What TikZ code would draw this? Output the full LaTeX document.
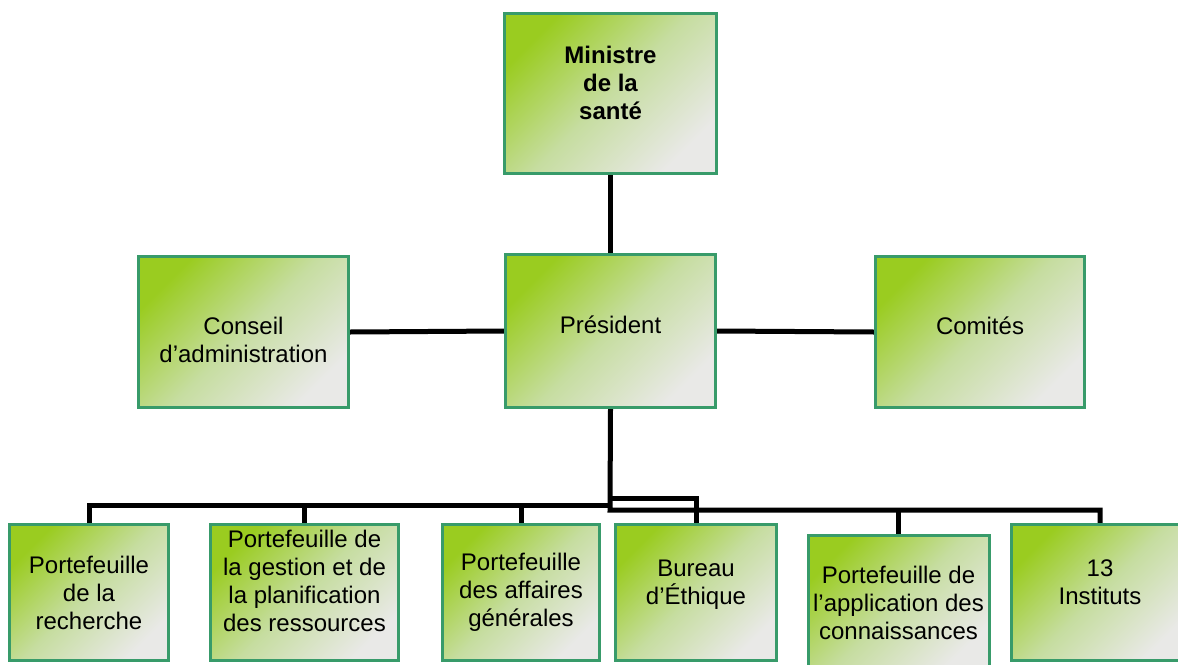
\documentclass[tikz,border=0pt]{standalone}
\usepackage{fontspec}
\setmainfont{Liberation Sans}
\usetikzlibrary{backgrounds}
\definecolor{gA}{RGB}{154,204,32}
\definecolor{gM}{RGB}{198,221,160}
\definecolor{gB}{RGB}{233,233,231}
\definecolor{bord}{RGB}{56,155,106}
\begin{document}
\begin{tikzpicture}[x=1pt,y=-1pt,
  box/.style={draw=bord, line width=3pt, top color=gA, bottom color=gB, middle color=gM,
    shading angle=45, align=center, inner sep=0pt, text=black,
    font=\fontsize{24}{28}\selectfont},
  link/.style={line width=5pt, black}]
\useasboundingbox (0,0) rectangle (1178,664);
\clip (0,0) rectangle (1178,664);
% top level
\node[box, minimum width=212pt, minimum height=160pt,
  font=\bfseries\fontsize{24}{28}\selectfont] (min) at (610.5,93.5) {Ministre\\de la\\santé\\[-6pt]~};
\node[box, minimum width=210pt, minimum height=153pt] (pres) at (610.5,331) {Président\\[-16pt]~};
\node[box, minimum width=210pt, minimum height=151pt] (cons) at (243.5,332) {~\\[5.5pt]Conseil\\d’administration};
\node[box, minimum width=209pt, minimum height=151pt] (com) at (980,332) {Comités\\[-16pt]~};
% bottom level
\node[box, minimum width=159pt, minimum height=136pt] (b1) at (89,592.5) {Portefeuille\\de la\\recherche};
\node[box, minimum width=188pt, minimum height=136pt] (b2) at (304.5,592.5) {Portefeuille de\\la gestion et de\\la planification\\des ressources\\[-4pt]~};
\node[box, minimum width=157pt, minimum height=136pt] (b3) at (521,592.5) {Portefeuille\\des affaires\\générales};
\node[box, minimum width=161pt, minimum height=136pt] (b4) at (696,592.5) {Bureau\\d’Éthique\\[-8pt]~};
\node[box, minimum width=181pt, minimum height=135pt] (b5) at (898.5,603) {Portefeuille de\\l’application des\\connaissances};
\node[box, minimum width=177pt, minimum height=136pt] (b6) at (1100,592.5) {13\\Instituts\\[-7pt]~};
% connectors
\coordinate (busA) at (610,505);
\coordinate (busB) at (610,510);
\coordinate (busC) at (610,498);
\begin{pgfonlayer}{background}
\draw[link] (min.south) -- (pres.north);
\draw[link] (cons.east) -- (pres.west);
\draw[link] (pres.east) -- (com.west);
\draw[link] (pres.south) -- (busB) -| (b6.north);
\draw[link] (b1.north) |- (busA);
\draw[link] (b2.north) -- (b2.north |- busA);
\draw[link] (b3.north) -- (b3.north |- busA);
\draw[link] (b4.north) |- (busC);
\draw[link] (b5.north) -- (b5.north |- busB);
\end{pgfonlayer}
\end{tikzpicture}
\end{document}
